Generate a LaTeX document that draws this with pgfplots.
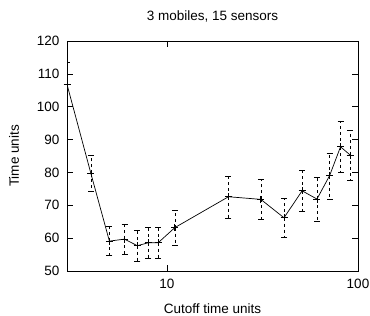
\documentclass[border=0pt]{standalone}
\usepackage{fontspec}
\setmainfont{Liberation Sans}
\usepackage{pgfplots}
\pgfplotsset{compat=1.18}
\begin{document}
\fontsize{13.5bp}{16bp}\selectfont
\begin{tikzpicture}
\useasboundingbox (-67bp,-45bp) rectangle (303bp,271bp);
\begin{axis}[
  at={(0,0)}, anchor=south west,
  scale only axis, width=291bp, height=230bp,
  xmode=log, xmin=3, xmax=100, ymin=50, ymax=120,
  xtick={10,100}, xticklabels={10,100},
  ytick={50,60,...,120},
  log basis x=10,
  tick align=inside,
  major tick length=6bp, minor tick length=3bp,
  axis line style={line width=0.9bp},
  every tick/.style={black, line width=0.6bp},
  /pgf/number format/assume math mode=true,
  tick label style={font=\fontsize{13.5bp}{16bp}\selectfont},
  xticklabel style={yshift=-3bp},
  yticklabel style={xshift=-3bp},
  label style={font=\fontsize{13.5bp}{16bp}\selectfont},
  title={3 mobiles, 15 sensors},
  title style={at={(0.5,1)}, anchor=base, yshift=15bp, font=\fontsize{13.5bp}{16bp}\selectfont},
  xlabel={Cutoff time units},
  xlabel style={at={(0.5,0)}, anchor=base, yshift=-42bp},
  ylabel={Time units},
  every axis y label/.style={at={(axis description cs:-0.182,0.5)}, rotate=90, anchor=center, font=\fontsize{13.5bp}{16bp}\selectfont},
]
\addplot[black, line width=0.7bp, mark=+, mark size=3.5bp,
  error bars/.cd, y dir=both, y explicit,
  error bar style={dashed, line width=0.6bp},
  error mark options={rotate=90, mark size=3bp, solid}]
  table[x=x, y=y, y error=e] {
x  y     e
3  106.8 6.6
4  79.7  5.5
5  59.1  4.4
6  59.7  4.6
7  57.7  4.6
8  58.6  4.6
9  58.6  4.6
11 63.2  5.4
21 72.6  6.4
31 71.8  6.1
41 66.2  5.9
51 74.4  6.3
61 71.9  6.7
71 79.0  7.0
81 87.8  7.8
91 85.3  7.7
};
\end{axis}
\end{tikzpicture}
\end{document}
